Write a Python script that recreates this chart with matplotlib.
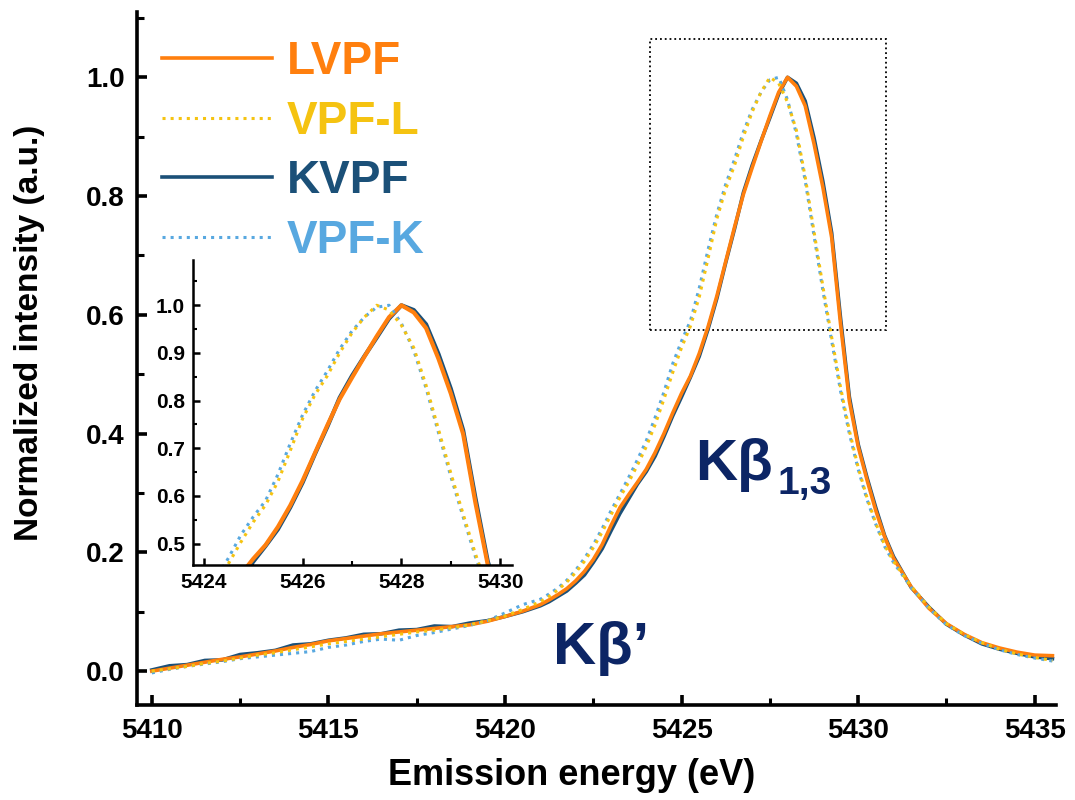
import matplotlib
matplotlib.use("Agg")
import matplotlib.pyplot as plt
from matplotlib import font_manager as fm
from matplotlib.patches import Rectangle
from matplotlib.ticker import MultipleLocator

plt.rcParams['font.family'] = ['Liberation Sans', 'DejaVu Sans']
plt.rcParams['font.weight'] = 'bold'

# emission energy grid (eV)
energy = [5410.0, 5410.5, 5411.0, 5411.5, 5412.0, 5412.5, 5413.0, 5413.5, 5414.0, 5414.5,
          5415.0, 5415.5, 5416.0, 5416.5, 5417.0, 5417.5, 5418.0, 5418.5, 5419.0, 5419.5,
          5420.0, 5420.5, 5421.0, 5421.25, 5421.5, 5421.75, 5422.0, 5422.25, 5422.5, 5422.75,
          5423.0, 5423.25, 5423.5, 5423.75, 5424.0, 5424.25, 5424.5, 5424.75, 5425.0, 5425.25,
          5425.5, 5425.75, 5426.0, 5426.25, 5426.5, 5426.75, 5427.0, 5427.25, 5427.5, 5427.75,
          5428.0, 5428.25, 5428.5, 5428.75, 5429.0, 5429.25, 5429.5, 5429.75, 5430.0, 5430.25,
          5430.5, 5430.75, 5431.0, 5431.5, 5432.0, 5432.5, 5433.0, 5433.5, 5434.0, 5434.5,
          5435.0, 5435.5]

lvpf = [0.000, 0.005, 0.010, 0.015, 0.020, 0.024, 0.029, 0.034, 0.040, 0.045,
        0.051, 0.055, 0.059, 0.063, 0.066, 0.069, 0.072, 0.075, 0.078, 0.084,
        0.092, 0.101, 0.112, 0.120, 0.129, 0.139, 0.152, 0.168, 0.188, 0.213,
        0.245, 0.275, 0.297, 0.318, 0.340, 0.368, 0.400, 0.435, 0.468, 0.497,
        0.535, 0.580, 0.632, 0.690, 0.748, 0.803, 0.848, 0.892, 0.935, 0.975,
        1.000, 0.985, 0.952, 0.888, 0.815, 0.730, 0.585, 0.455, 0.378, 0.322,
        0.270, 0.226, 0.190, 0.142, 0.106, 0.080, 0.062, 0.048, 0.039, 0.032,
        0.027, 0.026]

vpf_l = [0.000, 0.004, 0.008, 0.013, 0.017, 0.022, 0.027, 0.031, 0.036, 0.041,
         0.046, 0.050, 0.054, 0.058, 0.062, 0.066, 0.069, 0.073, 0.078, 0.085,
         0.093, 0.104, 0.117, 0.126, 0.137, 0.150, 0.166, 0.185, 0.208, 0.234,
         0.263, 0.292, 0.318, 0.347, 0.378, 0.415, 0.458, 0.503, 0.545, 0.581,
         0.630, 0.695, 0.762, 0.812, 0.852, 0.900, 0.942, 0.975, 1.000, 0.990,
         0.958, 0.911, 0.832, 0.740, 0.648, 0.562, 0.478, 0.405, 0.343, 0.292,
         0.249, 0.212, 0.185, 0.143, 0.108, 0.080, 0.062, 0.048, 0.037, 0.029,
         0.023, 0.018]

kvpf = [0.002, 0.009, 0.011, 0.018, 0.019, 0.028, 0.031, 0.035, 0.044, 0.046,
        0.052, 0.056, 0.062, 0.063, 0.069, 0.070, 0.076, 0.075, 0.081, 0.085,
        0.092, 0.100, 0.110, 0.117, 0.126, 0.135, 0.148, 0.162, 0.183, 0.206,
        0.236, 0.265, 0.290, 0.315, 0.336, 0.362, 0.395, 0.430, 0.462, 0.495,
        0.530, 0.576, 0.628, 0.688, 0.745, 0.806, 0.852, 0.893, 0.932, 0.972,
        1.000, 0.990, 0.960, 0.898, 0.825, 0.738, 0.595, 0.462, 0.382, 0.326,
        0.275, 0.228, 0.193, 0.141, 0.108, 0.079, 0.061, 0.046, 0.037, 0.030,
        0.024, 0.021]

vpf_k = [-0.003, 0.003, 0.008, 0.012, 0.016, 0.021, 0.024, 0.027, 0.030, 0.033,
         0.040, 0.044, 0.050, 0.054, 0.052, 0.060, 0.065, 0.071, 0.077, 0.085,
         0.098, 0.112, 0.121, 0.130, 0.140, 0.153, 0.170, 0.190, 0.213, 0.240,
         0.270, 0.298, 0.326, 0.356, 0.388, 0.427, 0.470, 0.518, 0.556, 0.590,
         0.645, 0.710, 0.770, 0.820, 0.862, 0.908, 0.946, 0.975, 0.996, 1.000,
         0.962, 0.905, 0.826, 0.733, 0.641, 0.556, 0.472, 0.400, 0.340, 0.289,
         0.247, 0.210, 0.183, 0.141, 0.106, 0.078, 0.060, 0.047, 0.036, 0.028,
         0.022, 0.017]

c_lvpf = '#ff7f0e'
c_vpfl = '#f5c311'
c_kvpf = '#1b5078'
c_vpfk = '#58a8e0'
c_note = '#0c2565'

# zoom box shown in the main panel
box_x = (5424.1, 5430.8)
box_y = (0.575, 1.064)

fig = plt.figure(figsize=(10.75, 8), dpi=100)
ax = fig.add_axes([0.1274, 0.11875, 0.8549, 0.86625])

l_k, = ax.plot(energy, kvpf, color=c_kvpf, lw=2.6, label='KVPF')
l_l, = ax.plot(energy, lvpf, color=c_lvpf, lw=2.6, label='LVPF')
l_vk, = ax.plot(energy, vpf_k, color=c_vpfk, lw=2.2, ls=':', label='VPF-K')
l_vl, = ax.plot(energy, vpf_l, color=c_vpfl, lw=2.2, ls=':', label='VPF-L')

ax.set_xlim(5409.58, 5435.6)
ax.set_ylim(-0.057, 1.11)
ax.xaxis.set_major_locator(MultipleLocator(5))
ax.xaxis.set_minor_locator(MultipleLocator(2.5))
ax.yaxis.set_major_locator(MultipleLocator(0.2))
ax.yaxis.set_minor_locator(MultipleLocator(0.1))
ax.yaxis.set_major_formatter(plt.FormatStrFormatter('%.1f'))
for s in ['top', 'right']:
    ax.spines[s].set_visible(False)
for s in ['left', 'bottom']:
    ax.spines[s].set_linewidth(2.6)
ax.tick_params(which='major', direction='in', length=7, width=2.6, labelsize=20, pad=9)
ax.tick_params(which='minor', direction='in', length=5, width=2.2)

ax.set_xlabel('Emission energy (eV)', fontsize=26, fontweight='bold')
ax.xaxis.set_label_coords(0.473, -0.077)
names = {f.name for f in fm.fontManager.ttflist}
if 'Liberation Sans Narrow' in names:
    ax.set_ylabel('Normalized intensity (a.u.)', fontsize=30, fontweight='bold',
                  family=['Liberation Sans Narrow', 'DejaVu Sans'])
else:
    ax.set_ylabel('Normalized intensity (a.u.)', fontsize=24, fontweight='bold')
ax.yaxis.set_label_coords(-0.100, 0.537)

ax.add_patch(Rectangle((box_x[0], box_y[0]), box_x[1] - box_x[0], box_y[1] - box_y[0],
                       fill=False, ls=':', lw=1.3, ec='black'))

ax.text(5421.35, 0.012, 'K\u03b2\u2019', fontsize=43, fontweight='bold', color=c_note, va='baseline')
ax.text(5425.38, 0.322, 'K\u03b2', fontsize=42, fontweight='bold', color=c_note, va='baseline')
ax.text(5427.72, 0.298, '1,3', fontsize=28, fontweight='bold', color=c_note, va='baseline')

leg = ax.legend(handles=[l_l, l_vl, l_k, l_vk], loc='upper left',
                bbox_to_anchor=(162 / 1075, 1 - 40 / 800), bbox_transform=fig.transFigure,
                frameon=False, prop={'size': 33, 'weight': 'bold'},
                handlelength=2.4, handletextpad=0.33, labelspacing=0.34,
                borderpad=0, borderaxespad=0)
for txt, c in zip(leg.get_texts(), [c_lvpf, c_vpfl, c_kvpf, c_vpfk]):
    txt.set_color(c)

# inset
ins = fig.add_axes([0.1795, 0.29375, 0.2968, 0.38125])
ins.plot(energy, kvpf, color=c_kvpf, lw=3.0)
ins.plot(energy, lvpf, color=c_lvpf, lw=3.0)
ins.plot(energy, vpf_k, color=c_vpfk, lw=2.2, ls=':')
ins.plot(energy, vpf_l, color=c_vpfl, lw=2.2, ls=':')
ins.set_xlim(5423.78, 5430.24)
ins.set_ylim(0.455, 1.095)
ins.xaxis.set_major_locator(MultipleLocator(2))
ins.xaxis.set_minor_locator(MultipleLocator(1))
ins.yaxis.set_major_locator(MultipleLocator(0.1))
ins.yaxis.set_minor_locator(MultipleLocator(0.05))
ins.yaxis.set_major_formatter(plt.FormatStrFormatter('%.1f'))
for s in ['top', 'right']:
    ins.spines[s].set_visible(False)
for s in ['left', 'bottom']:
    ins.spines[s].set_linewidth(1.8)
ins.tick_params(which='major', direction='in', length=5, width=1.8, labelsize=15, pad=6)
ins.tick_params(which='minor', direction='in', length=3, width=1.5)
ins.patch.set_alpha(0)

fig.savefig('out.png', dpi=100)
